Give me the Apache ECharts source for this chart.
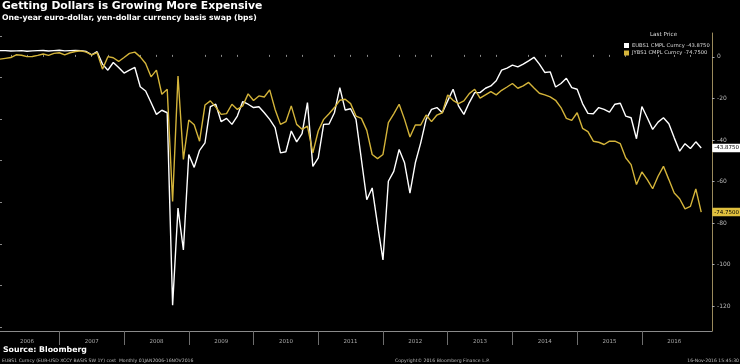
<!DOCTYPE html>
<html><head><meta charset="utf-8">
<script src="https://cdn.jsdelivr.net/npm/echarts@6/dist/echarts.min.js"></script>
<style>html,body{margin:0;padding:0;background:#000}#c{width:740px;height:364px}</style>
</head><body><div id="c"></div>
<script>
// Monthly observations, Jan 2006 .. Nov 2016 (131 months)
const firstMonth = '2006-01';
const yearLabels = ['2006','2007','2008','2009','2010','2011','2012','2013','2014','2015','2016'];
const seriesNames = ['EUBS1 CMPL Curncy', 'JYBS1 CMPL Curncy'];
const lastPrices = ['-43.8750', '-74.7500'];
const yTickValues = [0, -20, -40, -60, -80, -100, -120];
const yMinorTickValues = [10, -10, -30, -50, -70, -90, -110, -130];

const eubs1 = [
  3.0, 3.0, 2.8, 2.9, 3.0, 2.7, 2.9, 3.0, 3.1, 2.8, 3.0, 3.2, 2.9, 3.0, 3.1, 3.0, 2.6, 1.0, 2.5,
  -3.5, -6.4, -2.7, -5.1, -7.8, -6.4, -5.1, -14.4, -16.4, -22.0, -27.7, -25.7, -26.9,
  -119.6, -72.8, -93.0, -47.0, -53.2, -45.0, -41.4, -24.0, -22.8,
  -31.2, -29.6, -32.5, -28.5, -21.5, -22.8, -24.4, -24.0, -26.9, -30.1,
  -34.1, -46.2, -45.7, -35.7, -40.9, -37.0, -22.0, -52.7, -48.6, -32.5,
  -32.3, -26.9, -14.8, -25.6, -25.0, -30.1, -49.4, -68.8, -63.1, -80.9,
  -97.8, -59.9, -55.1, -44.6, -51.0, -65.6, -51.0, -41.4, -30.1, -25.3,
  -24.4, -26.9, -21.2, -15.6, -23.6, -27.7, -22.0, -17.2, -17.2, -15.1,
  -14.0, -11.5, -6.4, -5.4, -4.0, -4.8, -3.5, -1.9, -0.2, -3.5,
  -7.5, -7.2, -14.5, -12.8, -10.3, -14.8, -15.6, -22.5, -27.2, -27.4,
  -24.4, -25.3, -26.6, -22.8, -22.3, -28.5, -29.3, -39.4, -23.9, -29.3,
  -34.9, -31.4, -29.3, -32.2, -39.0, -45.4, -41.8, -44.1, -40.9, -43.875
];
const jybs1 = [
  -1.1, -0.7, -0.3, 1.0, 0.8, 0.1, 0.2, 0.7, 1.4, 0.7, 1.7, 2.0, 1.0, 2.0, 2.6, 2.9, 2.3, 1.0, 2.1,
  -5.9, 0.1, -0.4, -2.2, -0.3, 1.7, 2.3, 0.0, -3.2, -9.6, -6.4, -18.0, -15.6,
  -69.6, -9.2, -49.4, -30.4, -32.7, -40.6, -23.2, -21.2, -24.2,
  -27.7, -27.3, -22.8, -25.3, -23.6, -17.8, -21.0, -18.8, -19.3, -15.9,
  -25.3, -32.5, -31.2, -23.6, -32.5, -34.9, -33.3, -46.2, -35.7, -30.1,
  -27.4, -24.4, -20.9, -20.4, -22.5, -28.5, -29.6, -35.4, -47.0, -49.0,
  -47.0, -31.7, -27.4, -22.8, -30.1, -38.6, -32.8, -32.8, -28.0, -31.2,
  -28.0, -26.9, -18.3, -20.9, -22.5, -21.2, -17.7, -15.6, -19.9, -18.3,
  -16.7, -18.3, -16.1, -14.5, -12.8, -15.1, -14.0, -12.3, -15.0, -17.5,
  -18.3, -19.3, -20.9, -24.4, -29.6, -30.6, -26.9, -34.4, -36.0, -40.6,
  -41.1, -42.2, -40.6, -40.6, -41.8, -48.6, -51.9, -61.5, -55.4, -59.1,
  -63.5, -57.5, -52.7, -59.1, -65.6, -68.3, -73.2, -72.0, -63.6, -74.75
];

// month index positions (month-end), year boundaries after each December
const yearBoundaries = yearLabels.slice(1).map((_, k) => 11 + 12 * k);
const yearLabelPos = yearLabels.map((_, k) => 5 + 12 * k);
const quarterTicks = [];
for (let q = 2; q < 131; q += 3) { if ((q - 11) % 12 !== 0) quarterTicks.push(q); }

const WHITE = '#ffffff';
const GOLD = '#d4b43a';
const smallFont = 'DejaVu Sans';

const chart = echarts.init(document.getElementById('c'));
chart.setOption({
  backgroundColor: '#000',
  animation: false,
  grid: { left: 0, right: 28, top: 33, bottom: 33 },
  xAxis: [{
    type: 'value', min: 0, max: 132, position: 'bottom',
    axisLine: { show: true, onZero: false, lineStyle: { color: '#8a8a8a', width: 1 } },
    axisTick: { show: true, customValues: yearBoundaries, length: 14, lineStyle: { color: '#6e6e6e', width: 1 } },
    axisLabel: { show: true, customValues: yearLabelPos, margin: 8, color: '#a8a8a8', fontSize: 5.5, fontFamily: smallFont,
      formatter: v => yearLabels[Math.round((v - 5) / 12)] },
    splitLine: { show: false }
  }, {
    type: 'value', min: 0, max: 132, position: 'bottom',
    axisLine: { show: false },
    axisTick: { show: true, inside: true, customValues: quarterTicks, length: 2, lineStyle: { color: '#8a8a8a' } },
    axisLabel: { show: false }, splitLine: { show: false }
  }],
  yAxis: [{
    type: 'value', min: -132, max: 11.5, position: 'right',
    axisLine: { show: true, onZero: false, lineStyle: { color: '#9a8a5c', width: 1 } },
    axisTick: { show: true, customValues: yTickValues, length: 2.5, lineStyle: { color: '#aaa' } },
    axisLabel: { show: true, customValues: yTickValues, margin: 5, color: '#b8b8b8', fontSize: 6, fontFamily: smallFont },
    splitLine: { show: false }
  }, {
    type: 'value', min: -132, max: 11.5, position: 'right',
    axisLine: { show: false },
    axisTick: { show: true, customValues: yMinorTickValues, length: 2, lineStyle: { color: '#888' } },
    axisLabel: { show: false }, splitLine: { show: false }
  }],
  legend: {
    orient: 'vertical', left: 619, top: 38, itemGap: 2.5, itemWidth: 5, itemHeight: 5,
    icon: 'rect', data: seriesNames,
    textStyle: { color: '#dcdcdc', fontSize: 5.2, fontFamily: smallFont, padding: [0, 0, 0, -2] },
    formatter: name => name + ' ' + lastPrices[seriesNames.indexOf(name)]
  },
  series: [{
    name: seriesNames[0], type: 'line', xAxisIndex: 0, yAxisIndex: 0,
    data: eubs1.map((v, i) => [i, v]), showSymbol: false, symbol: 'none',
    lineStyle: { color: WHITE, width: 1.4 }, itemStyle: { color: WHITE },
    endLabel: { show: true, formatter: () => lastPrices[0], distance: 11, color: '#000', backgroundColor: WHITE,
      fontSize: 5.5, fontFamily: smallFont, padding: [1.5, 2, 1, 2], borderRadius: 1 }
  }, {
    name: seriesNames[1], type: 'line', xAxisIndex: 0, yAxisIndex: 0,
    data: jybs1.map((v, i) => [i, v]), showSymbol: false, symbol: 'none',
    lineStyle: { color: GOLD, width: 1.4 }, itemStyle: { color: GOLD },
    endLabel: { show: true, formatter: () => lastPrices[1], distance: 11, color: '#000', backgroundColor: '#e0c03e',
      fontSize: 5.5, fontFamily: smallFont, padding: [1.5, 2, 1, 2], borderRadius: 1 }
  }],
  graphic: [
    { type: 'text', left: 2, top: 1, style: { text: 'Getting Dollars is Growing More Expensive', fill: '#fff', font: 'bold 10.8px "DejaVu Sans"' } },
    { type: 'text', left: 2, top: 14, style: { text: 'One-year euro-dollar, yen-dollar currency basis swap (bps)', fill: '#fff', font: 'bold 7.7px "DejaVu Sans"' } },
    { type: 'text', left: 650, top: 32, style: { text: 'Last Price', fill: '#dcdcdc', font: '5.6px "DejaVu Sans"' } },
    { type: 'text', left: 3, top: 346, style: { text: 'Source: Bloomberg', fill: '#fff', font: 'bold 7.8px "DejaVu Sans"' } },
    { type: 'text', left: 2, top: 358, style: { text: 'EUBS1 Curncy (EUR-USD XCCY BASIS SW 1Y) cost  Monthly 01JAN2006-16NOV2016', fill: '#bbb', font: '4.6px "DejaVu Sans"' } },
    { type: 'text', left: 395, top: 358, style: { text: 'Copyright\u00A9 2016 Bloomberg Finance L.P.', fill: '#bbb', font: '4.6px "DejaVu Sans"' } },
    { type: 'text', right: 1, top: 358, style: { text: '16-Nov-2016 15:45:30', fill: '#bbb', font: '4.6px "DejaVu Sans"' } }
  ]
});
</script></body></html>
